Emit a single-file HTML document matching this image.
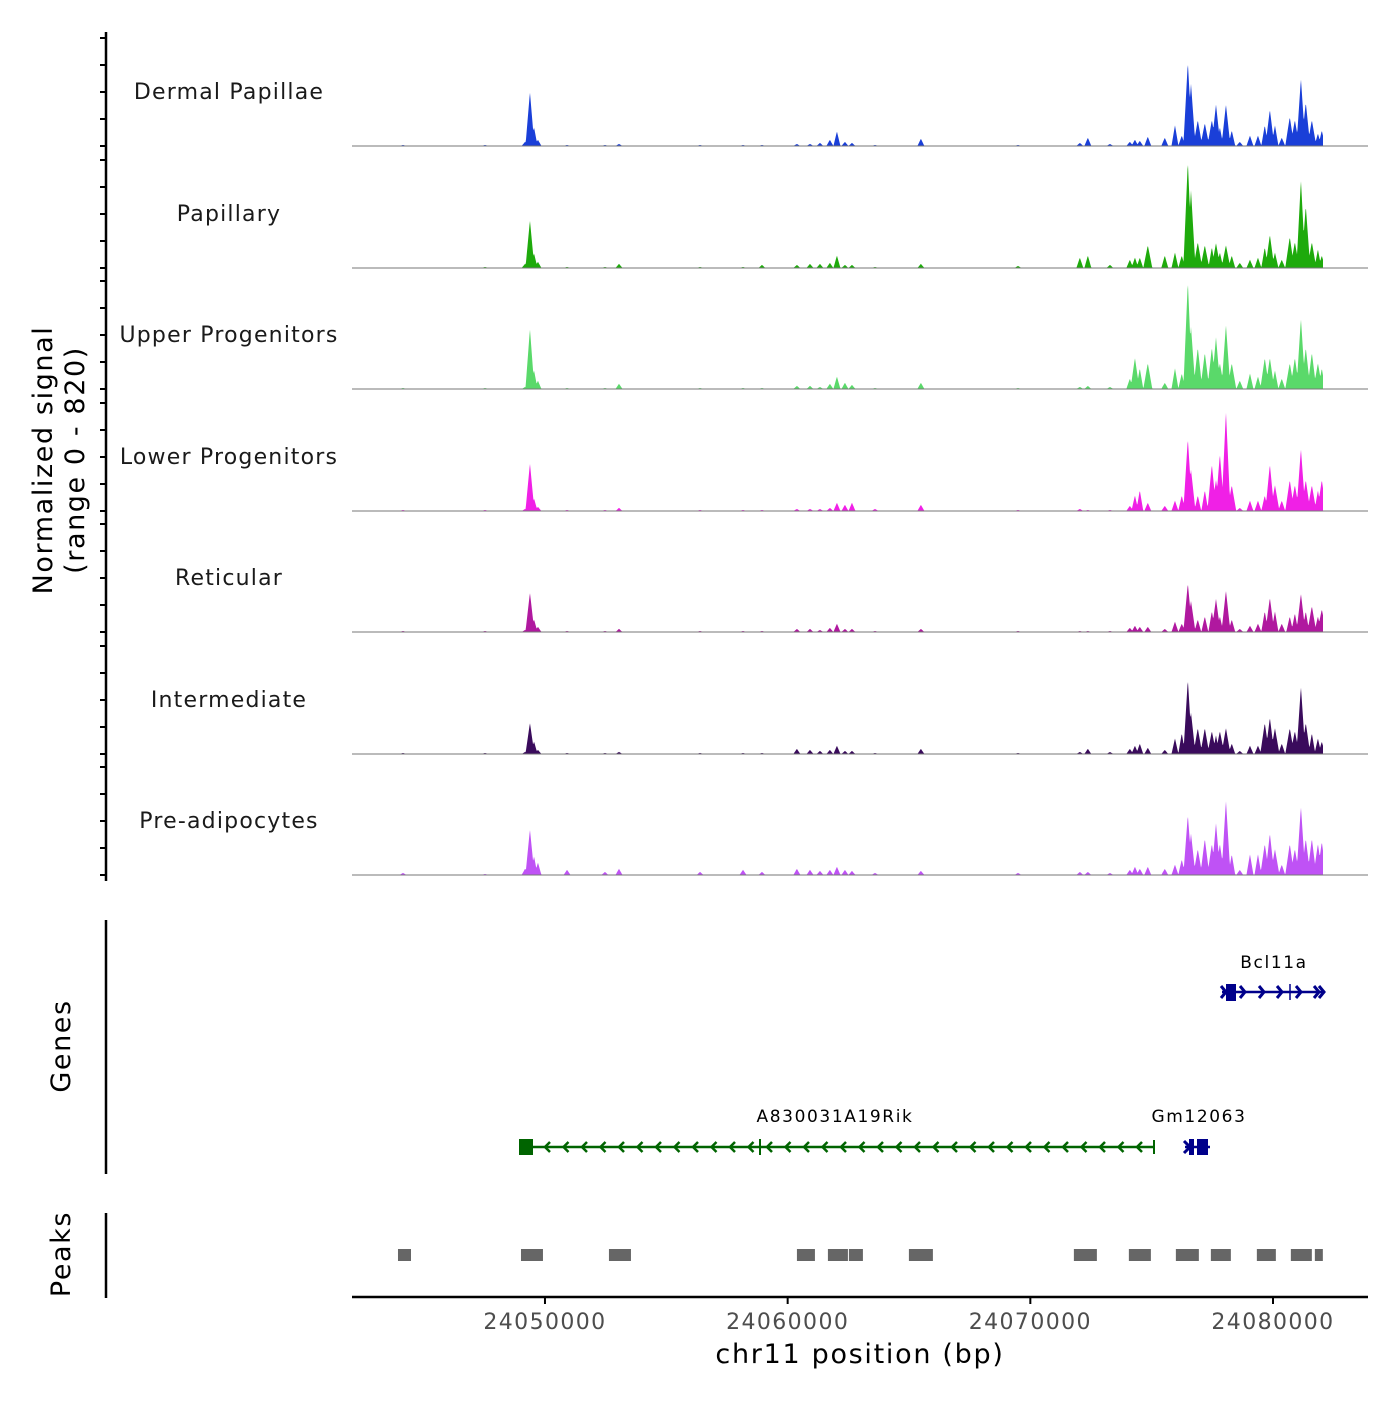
<!DOCTYPE html>
<html><head><meta charset="utf-8"><style>
body{margin:0;background:#fff}
svg text{font-family:"DejaVu Sans","Liberation Sans",sans-serif}
</style></head><body>
<svg id="c" width="1400" height="1400" xmlns="http://www.w3.org/2000/svg"></svg>
<script>
const positions=[24044150,24047530,24049180,24049380,24049550,24049710,24050910,24052470,24053050,24056390,24058160,24058940,24060380,24060920,24061330,24061740,24062030,24062360,24062650,24063600,24065490,24069490,24072040,24072370,24073280,24074100,24074310,24074510,24074840,24075540,24075960,24076240,24076490,24076620,24076900,24077190,24077480,24077650,24077810,24078060,24078300,24078630,24079050,24079380,24079660,24079870,24080080,24080360,24080690,24080900,24081150,24081350,24081600,24081850,24082010];
const trackNames=["Dermal Papillae","Papillary","Upper Progenitors","Lower Progenitors","Reticular","Intermediate","Pre-adipocytes"];
const trackColors=["#1a3fd8","#1eaa0c","#5ad96a","#f020e6","#b0189f","#3a0b5c","#bf52f5"];
const sigDP=[7,7,28,364,126,42,7,7,14,7,7,7,14,14,21,42,98,28,21,7,49,7,21,56,14,28,42,35,63,56,140,70,567,420,175,154,175,280,126,280,105,28,70,70,140,245,140,56,196,175,455,294,175,84,105];
const sigPap=[0,7,28,322,98,42,7,7,28,7,7,21,21,28,28,35,84,21,21,7,28,14,70,84,21,56,70,70,154,84,105,84,721,525,175,154,140,168,105,154,84,35,56,70,140,224,105,56,210,175,595,420,175,126,84];
const sigUp=[7,7,14,406,126,56,7,7,35,7,7,7,21,21,14,35,84,42,28,7,42,7,14,21,14,70,210,140,175,42,140,105,728,420,280,245,280,350,175,434,175,56,105,84,210,210,126,70,175,210,476,280,245,175,140];
const sigLow=[7,7,14,322,84,28,7,7,21,7,7,7,14,14,14,21,56,42,56,14,42,7,14,7,7,35,105,140,56,35,70,105,490,280,105,140,315,210,385,672,175,21,70,70,105,315,175,70,210,175,420,210,175,140,210];
const sigRet=[7,7,14,266,84,35,7,7,21,7,7,7,21,21,14,28,56,21,21,7,21,7,7,7,7,28,42,35,35,21,70,56,329,210,84,105,140,224,105,280,84,21,42,56,140,231,140,56,105,126,259,140,175,105,154];
const sigInt=[7,7,14,210,84,28,7,7,14,7,7,7,35,28,21,28,56,21,21,7,35,7,14,35,14,35,56,70,42,28,105,140,504,280,175,175,154,126,154,175,70,21,56,56,210,245,175,70,175,154,455,210,140,105,84];
const sigPre=[14,7,42,308,126,84,35,21,42,21,35,21,42,35,28,35,56,35,28,14,28,14,21,21,14,35,56,42,56,42,70,105,406,280,175,245,210,350,210,504,140,35,140,140,210,280,175,70,210,175,462,245,245,210,224];
const signals=[sigDP,sigPap,sigUp,sigLow,sigRet,sigInt,sigPre];
const xTicks=[24050000,24060000,24070000,24080000];
const peakStarts=[24043943,24049011,24052636,24060382,24061659,24062524,24064996,24071794,24074060,24075997,24077439,24079334,24080735,24081724];
const peakEnds=[24044479,24049917,24053543,24061124,24062483,24063101,24065985,24072742,24074967,24076944,24078263,24080117,24081600,24082053];
const X0=24042048,X1=24083914,PX0=352,PX1=1368,YMAX=820,TH=121.5;
const sx=v=>PX0+(v-X0)/(X1-X0)*(PX1-PX0);
const NS="http://www.w3.org/2000/svg",svg=document.getElementById('c');
function mk(t,a,p){const e=document.createElementNS(NS,t);for(const k in a)e.setAttribute(k,a[k]);(p||svg).appendChild(e);return e;}
const bases=[146,268,389,511,632,754,875];
signals.forEach((sig,ti)=>{
  const base=bases[ti],g=mk('g',{});
  
  
  const sy=v=>base-v/YMAX*TH;
  const ppx=positions.map(sx);
  let pts=[];
  for(let x=395;x<=1323;x+=0.5){
    let v=(x>398&&x<1322)?3:0;
    ppx.forEach((p,i)=>{const hw=sig[i]>150?4.5:3.5;const d=Math.abs(x-p);if(d<hw)v=Math.max(v,sig[i]*(1-d/hw));});
    pts.push(x.toFixed(1)+','+sy(v).toFixed(1));
  }
  const poly=mk('polygon',{points:'395,'+base+' '+pts.join(' ')+' 1323,'+base,fill:trackColors[ti]},g);
  
  
  const bl=mk('line',{x1:352,x2:1368,y1:base,y2:base,stroke:'#777','stroke-width':1},g);
  
  
  const tl=mk('text',{x:229,y:base-47,'text-anchor':'middle','font-size':22,'letter-spacing':1.2,fill:'#1a1a1a'},g);
  tl.textContent=trackNames[ti];
  
  
  for(let k=0;k<5;k++){const y=base-k*27;const tk=mk('line',{x1:100,x2:106,y1:y,y2:y,stroke:'#000','stroke-width':2});
  
  }
});
mk('line',{x1:106,x2:106,y1:32,y2:881,stroke:'#000','stroke-width':2.5,});
const yt=mk('text',{transform:'translate(52,460) rotate(-90)','text-anchor':'middle','font-size':27,'letter-spacing':1.6,fill:'#000',});
yt.innerHTML='<tspan x="0" dy="0">Normalized signal</tspan><tspan x="0" dy="32">(range 0 - 820)</tspan>';
mk('line',{x1:106,x2:106,y1:920,y2:1174,stroke:'#000','stroke-width':2.5,});
mk('text',{transform:'translate(70,1046) rotate(-90)','text-anchor':'middle','font-size':27,'letter-spacing':1.6,}).textContent='Genes';
const gg=mk('g',{});
mk('line',{x1:520,x2:1155,y1:1147,y2:1147,stroke:'#006400','stroke-width':2.5},gg);
mk('rect',{x:519,y:1139,width:14,height:16,fill:'#006400'},gg);
mk('line',{x1:760,x2:760,y1:1139,y2:1155,stroke:'#006400','stroke-width':2},gg);
mk('line',{x1:1154,x2:1154,y1:1140,y2:1154,stroke:'#006400','stroke-width':2},gg);
for(let x=545;x<1150;x+=18.5){mk('polyline',{points:(x+5)+',1142 '+x+',1147 '+(x+5)+',1152',fill:'none',stroke:'#006400','stroke-width':2.5},gg);}
mk('text',{x:835,y:1122,'text-anchor':'middle','font-size':17,'letter-spacing':1.6},gg).textContent='A830031A19Rik';
const gm=mk('g',{});
mk('line',{x1:1185,x2:1210,y1:1147,y2:1147,stroke:'#00008b','stroke-width':2.5},gm);
mk('rect',{x:1189,y:1139,width:5,height:16,fill:'#00008b'},gm);
mk('rect',{x:1197,y:1139,width:11,height:16,fill:'#00008b'},gm);
mk('polyline',{points:'1184,1141 1190,1147 1184,1153',fill:'none',stroke:'#00008b','stroke-width':3},gm);
mk('text',{x:1199,y:1122,'text-anchor':'middle','font-size':17,'letter-spacing':1.6},gm).textContent='Gm12063';
const bc=mk('g',{});
mk('line',{x1:1222,x2:1325,y1:992,y2:992,stroke:'#00008b','stroke-width':2.5},bc);
mk('rect',{x:1226,y:984,width:10,height:17,fill:'#00008b'},bc);
mk('line',{x1:1290,x2:1290,y1:984,y2:1000,stroke:'#00008b','stroke-width':1.5},bc);
[1221,1240,1259,1277,1296,1314,1319].forEach(x=>mk('polyline',{points:x+',986 '+(x+5)+',992 '+x+',998',fill:'none',stroke:'#00008b','stroke-width':3},bc));
mk('text',{x:1274,y:968,'text-anchor':'middle','font-size':17,'letter-spacing':1.6},bc).textContent='Bcl11a';
mk('line',{x1:106,x2:106,y1:1213,y2:1298,stroke:'#000','stroke-width':2.5,});
mk('text',{transform:'translate(70,1254) rotate(-90)','text-anchor':'middle','font-size':27,'letter-spacing':1.6,}).textContent='Peaks';
peakStarts.forEach((s,i)=>{const r=mk('rect',{x:sx(s),y:1249,width:sx(peakEnds[i])-sx(s),height:12,fill:'#666'});

});
mk('line',{x1:352,x2:1368,y1:1297,y2:1297,stroke:'#000','stroke-width':2.5,});
xTicks.forEach(t=>{mk('line',{x1:sx(t),x2:sx(t),y1:1297,y2:1304,stroke:'#000','stroke-width':2,});
const l=mk('text',{x:sx(t),y:1329,'text-anchor':'middle','font-size':22,'letter-spacing':1.4,fill:'#4d4d4d'});l.textContent=t;

});
mk('text',{x:860,y:1363,'text-anchor':'middle','font-size':27,'letter-spacing':1.7,}).textContent='chr11 position (bp)';
</script>
</body></html>
